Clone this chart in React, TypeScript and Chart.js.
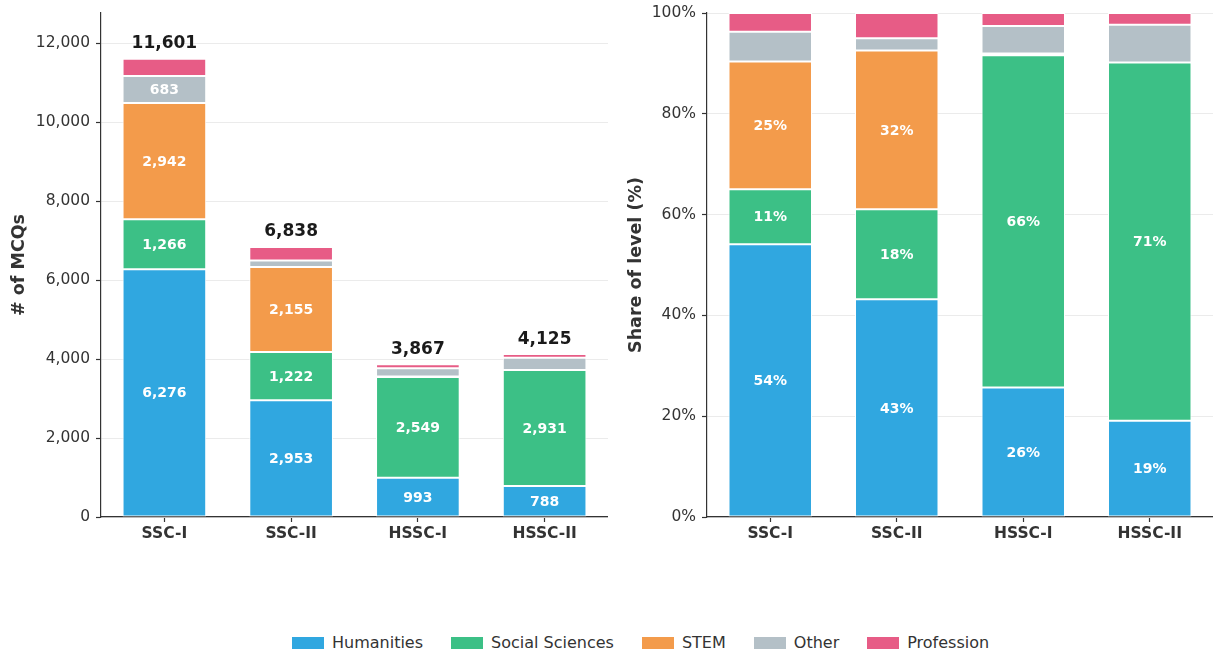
import React, { useEffect, useRef } from "react";
import { Chart, registerables } from "chart.js";

Chart.register(...registerables);

const levels = ["SSC-I", "SSC-II", "HSSC-I", "HSSC-II"];
const seriesNames = ["Humanities", "Social Sciences", "STEM", "Other", "Profession"];
const humanities = [6276, 2953, 993, 788];
const socialSciences = [1266, 1222, 2549, 2931];
const stem = [2942, 2155, 15, 0];
const other = [683, 165, 210, 310];
const profession = [434, 343, 100, 96];
const colors = ["#30a7e0", "#3cc086", "#f39b4b", "#b4c0c7", "#e75c86"];
const countTicks = [0, 2000, 4000, 6000, 8000, 10000, 12000];
const pctTicks = [0, 20, 40, 60, 80, 100];

const FONT = "'DejaVu Sans', sans-serif";
const series = [humanities, socialSciences, stem, other, profession];
const totals = levels.map((_, i) => series.reduce((s, arr) => s + arr[i], 0));

function makeLabelPlugin(threshold: number, fmt: (v: number) => string, showTotals: boolean) {
  return {
    id: "segLabels",
    afterDatasetsDraw(chart: any) {
      const ctx = chart.ctx;
      ctx.save();
      ctx.textAlign = "center";
      ctx.textBaseline = "middle";
      chart.data.datasets.forEach((ds: any, di: number) => {
        const meta = chart.getDatasetMeta(di);
        meta.data.forEach((el: any, i: number) => {
          const v = ds.data[i];
          if (v >= threshold) {
            ctx.fillStyle = "#ffffff";
            ctx.font = `bold 14px ${FONT}`;
            ctx.fillText(fmt(v), el.x, (el.y + el.base) / 2 + 1);
          }
        });
      });
      if (showTotals) {
        const lastMeta = chart.getDatasetMeta(chart.data.datasets.length - 1);
        lastMeta.data.forEach((el: any, i: number) => {
          ctx.fillStyle = "#1a1a1a";
          ctx.font = `bold 17px ${FONT}`;
          ctx.fillText(totals[i].toLocaleString("en-US"), el.x, el.y - 15);
        });
      }
      ctx.restore();
    },
  };
}

function baseOptions(yOpts: any, titleText: string, titlePad: number) {
  return {
    responsive: false,
    animation: false,
    layout: { padding: { top: 13, right: 0, left: 0, bottom: 0 } },
    plugins: { legend: { display: false }, tooltip: { enabled: false } },
    scales: {
      x: {
        stacked: true,
        offset: true,
        grid: {
          display: true,
          drawOnChartArea: false,
          drawTicks: true,
          tickLength: 5,
          offset: false,
          tickColor: "#333",
          tickWidth: 1.2,
        },
        border: { display: true, color: "#333", width: 1.2 },
        ticks: { color: "#333", font: { family: FONT, size: 15.5, weight: "bold" }, padding: 3 },
        afterFit: (s: any) => {
          s.height = 43;
          s.paddingLeft = 0;
          s.paddingRight = 0;
        },
      },
      y: {
        stacked: true,
        ...yOpts,
        grid: { color: "#ebebeb", lineWidth: 1, tickColor: "#333", tickLength: 5, tickWidth: 1.2 },
        border: { display: true, color: "#333", width: 1.2 },
        title: {
          display: true,
          text: titleText,
          color: "#333",
          font: { family: FONT, size: 17.5, weight: "bold" },
          padding: { top: titlePad, bottom: 0 },
        },
        afterFit: (s: any) => {
          s.width = 100;
          s.paddingTop = 0;
          s.paddingBottom = 0;
        },
      },
    },
  };
}

function StackChart(props: { mode: "count" | "pct"; left: number; width: number }) {
  const ref = useRef<HTMLCanvasElement | null>(null);
  useEffect(() => {
    if (!ref.current) return;
    const isPct = props.mode === "pct";
    const datasets = seriesNames.map((name, si) => ({
      label: name,
      data: isPct ? series[si].map((v, i) => (v / totals[i]) * 100) : series[si],
      backgroundColor: colors[si],
      borderColor: "#ffffff",
      borderWidth: 1,
      borderSkipped: false,
      barPercentage: 0.66,
      categoryPercentage: 1,
    }));
    const maxCount = Math.max(...totals) * 1.1;
    const yOpts = isPct
      ? {
          min: 0,
          max: 100,
          afterBuildTicks: (s: any) => {
            s.ticks = pctTicks.map((v) => ({ value: v }));
          },
          ticks: {
            color: "#333",
            font: { family: FONT, size: 15.5 },
            padding: 6,
            callback: (v: any) => `${v}%`,
          },
        }
      : {
          min: 0,
          max: maxCount,
          afterBuildTicks: (s: any) => {
            s.ticks = countTicks.map((v) => ({ value: v }));
          },
          ticks: {
            color: "#333",
            font: { family: FONT, size: 15.5 },
            padding: 6,
            callback: (v: any) => Number(v).toLocaleString("en-US"),
          },
        };
    const opts: any = baseOptions(yOpts, isPct ? "Share of level (%)" : "# of MCQs", isPct ? 19 : 8);
    const chart = new Chart(ref.current, {
      type: "bar",
      data: { labels: levels, datasets },
      options: opts,
      plugins: [
        isPct
          ? makeLabelPlugin(8, (v) => `${Math.round(v)}%`, false)
          : makeLabelPlugin(500, (v) => v.toLocaleString("en-US"), true),
      ],
    });
    return () => chart.destroy();
  }, [props.mode]);
  return (
    <canvas
      ref={ref}
      width={props.width}
      height={560}
      style={{ position: "absolute", left: props.left, top: 0, width: props.width, height: 560 }}
    />
  );
}

export default function App() {
  useEffect(() => {
    document.body.style.margin = "0";
  }, []);
  return (
    <div style={{ position: "relative", width: 1213, height: 655, background: "#fff", overflow: "hidden" }}>
      <StackChart mode="count" left={1} width={607} />
      <StackChart mode="pct" left={607} width={606} />
      <div
        style={{
          position: "absolute",
          left: 292,
          top: 633,
          display: "flex",
          alignItems: "center",
          fontFamily: FONT,
          fontSize: 16,
          color: "#333",
          whiteSpace: "nowrap",
          lineHeight: "20px",
        }}
      >
        {seriesNames.map((n, i) => (
          <div key={n} style={{ display: "flex", alignItems: "center", marginRight: 28 }}>
            <span style={{ display: "inline-block", width: 32, height: 12, background: colors[i], marginRight: 8 }} />
            <span>{n}</span>
          </div>
        ))}
      </div>
    </div>
  );
}
